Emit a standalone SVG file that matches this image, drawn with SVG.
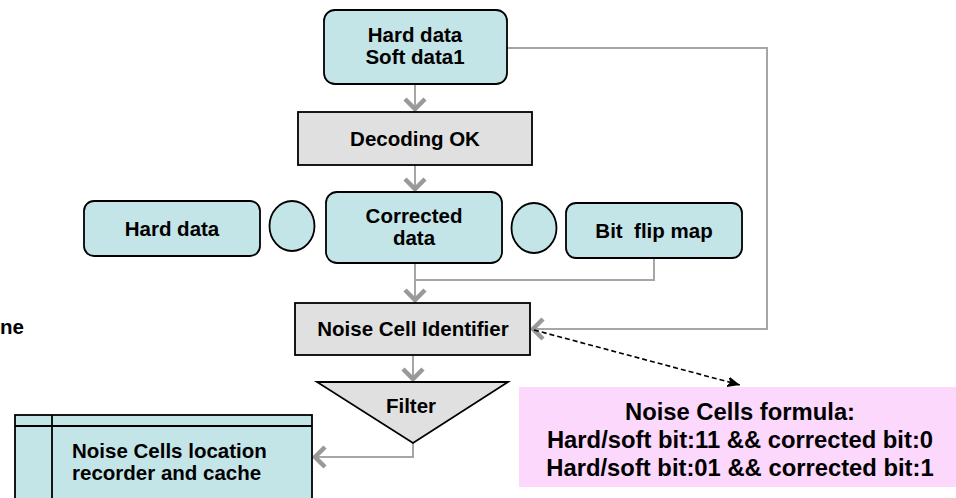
<svg xmlns="http://www.w3.org/2000/svg" width="956" height="498" viewBox="0 0 956 498">
<style>
text{font-family:"Liberation Sans",Arial,sans-serif;font-weight:bold;font-size:20.5px;fill:#000;text-anchor:middle}
.teal{fill:#c4e5e7;stroke:#000;stroke-width:1.8}
.grey{fill:#e0e0e0;stroke:#000;stroke-width:1.8}
.conn{fill:none;stroke:#a6a6a6;stroke-width:2}
.dash{fill:none;stroke:#000;stroke-width:1.6;stroke-dasharray:5,3}
.big{font-size:23.8px}
</style>
<defs>
<marker id="chev" markerUnits="userSpaceOnUse" markerWidth="30" markerHeight="30" viewBox="-15 -15 30 30" refX="0" refY="0" orient="auto">
<path d="M-11,-10 L-1,0 L-11,10" fill="none" stroke="#999" stroke-width="4.5"/>
</marker>
<marker id="blk" markerUnits="userSpaceOnUse" markerWidth="24" markerHeight="24" viewBox="-12 -12 24 24" refX="0" refY="0" orient="auto">
<path d="M0,0 L-14,-6 L-10,0 L-14,6 Z" fill="#000"/>
</marker>
</defs>
<g id="connectors">
<path class="conn" d="M415,84 V110" marker-end="url(#chev)"/>
<path class="conn" d="M415,165 V190" marker-end="url(#chev)"/>
<path class="conn" d="M415,263 V301" marker-end="url(#chev)"/>
<path class="conn" d="M654,258 V280 H415"/>
<path class="conn" d="M507,48 H767 V329 H532" marker-end="url(#chev)"/>
<path class="conn" d="M413,355 V380" marker-end="url(#chev)"/>
<path class="conn" d="M413,443 V457 H314" marker-end="url(#chev)"/>
<path class="dash" d="M534,330 L740,385" marker-end="url(#blk)"/>
</g>
<g id="hard-soft">
<rect class="teal" x="324" y="10" width="183" height="74" rx="11"/>
<text x="415" y="42">Hard data</text>
<text x="415" y="64">Soft data1</text>
</g>
<g id="decoding-ok">
<rect class="grey" x="298" y="112" width="234" height="53"/>
<text x="415" y="146">Decoding OK</text>
</g>
<g id="hard-data">
<rect class="teal" x="84" y="201" width="176" height="55" rx="10"/>
<text x="172" y="236">Hard data</text>
</g>
<g id="circle-left">
<ellipse class="teal" cx="292" cy="226" rx="22.5" ry="25"/>
</g>
<g id="corrected-data">
<rect class="teal" x="326" y="192" width="176" height="71" rx="11"/>
<text x="414" y="223">Corrected</text>
<text x="414" y="245">data</text>
</g>
<g id="circle-right">
<ellipse class="teal" cx="534" cy="228" rx="22.5" ry="25"/>
</g>
<g id="bit-flip-map">
<rect class="teal" x="566" y="203" width="176" height="55" rx="10"/>
<text x="654" y="238" style="white-space:pre">Bit  flip map</text>
</g>
<g id="noise-cell-identifier">
<rect class="grey" x="295" y="303" width="235" height="52"/>
<text x="413" y="336">Noise Cell Identifier</text>
</g>
<g id="filter">
<polygon class="grey" points="317,382 508,382 413,443"/>
<text x="411" y="413">Filter</text>
</g>
<g id="cache">
<rect class="teal" x="15" y="415" width="297" height="100"/>
<line x1="15" y1="426" x2="312" y2="426" stroke="#000" stroke-width="1.8"/>
<line x1="52" y1="415" x2="52" y2="515" stroke="#000" stroke-width="1.8"/>
<text x="72" y="458" style="text-anchor:start">Noise Cells location</text>
<text x="72" y="480" style="text-anchor:start">recorder and cache</text>
</g>
<g id="partial-label">
<text x="0" y="334" style="text-anchor:start">ne</text>
</g>
<g id="formula">
<rect x="519" y="387" width="437" height="100" fill="#fcd8fc"/>
<text class="big" x="740" y="420">Noise Cells formula:</text>
<text class="big" x="740" y="448">Hard/soft bit:11 &amp;&amp; corrected bit:0</text>
<text class="big" x="740" y="476">Hard/soft bit:01 &amp;&amp; corrected bit:1</text>
</g>
</svg>
